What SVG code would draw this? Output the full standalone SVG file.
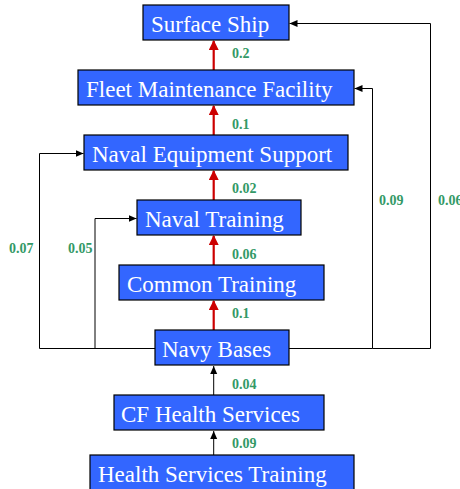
<svg xmlns="http://www.w3.org/2000/svg" width="460" height="489" viewBox="0 0 460 489">
<style>
.box{fill:#3366FF;stroke:#000;stroke-width:1.2}
.t{font-family:"Liberation Serif","Times New Roman",serif;font-size:23px;fill:#FFFFFF}
.v{font-family:"Liberation Serif","Times New Roman",serif;font-size:14px;font-weight:bold;fill:#339966}
.red{stroke:#CC0000;stroke-width:2.2;fill:none}
.blk{stroke:#000;stroke-width:1;fill:none}
</style>
<defs>
<marker id="ar" markerWidth="10" markerHeight="10" refX="9" refY="5" orient="auto" markerUnits="userSpaceOnUse"><path d="M0,0 L10,5 L0,10 Z" fill="#CC0000"/></marker>
<marker id="ab" markerWidth="8" markerHeight="8" refX="8" refY="4" orient="auto" markerUnits="userSpaceOnUse"><path d="M0,0.5 L8,4 L0,7.5 Z" fill="#000"/></marker>
</defs>
<g id="connectors">
<line class="red" x1="213.7" y1="70" x2="213.7" y2="41" marker-end="url(#ar)"/>
<line class="red" x1="213.7" y1="135" x2="213.7" y2="106" marker-end="url(#ar)"/>
<line class="red" x1="213.7" y1="200" x2="213.7" y2="171" marker-end="url(#ar)"/>
<line class="red" x1="213.7" y1="265" x2="213.7" y2="236" marker-end="url(#ar)"/>
<line class="red" x1="213.7" y1="330" x2="213.7" y2="301" marker-end="url(#ar)"/>
<line class="blk" x1="213.7" y1="395" x2="213.7" y2="366" marker-end="url(#ab)"/>
<line class="blk" x1="213.7" y1="455" x2="213.7" y2="431" marker-end="url(#ab)"/>
<polyline class="blk" points="155,348.5 39.5,348.5 39.5,153.5 83.5,153.5" marker-end="url(#ab)"/>
<polyline class="blk" points="95,348.5 95,218.5 136.5,218.5" marker-end="url(#ab)"/>
<polyline class="blk" points="289,348.5 372.5,348.5 372.5,88.5 354.5,88.5" marker-end="url(#ab)"/>
<polyline class="blk" points="372.5,348.5 430.5,348.5 430.5,23.5 289.5,23.5" marker-end="url(#ab)"/>
<text class="v" x="232" y="58">0.2</text>
<text class="v" x="232" y="129">0.1</text>
<text class="v" x="232" y="193">0.02</text>
<text class="v" x="232" y="259">0.06</text>
<text class="v" x="232" y="318">0.1</text>
<text class="v" x="232" y="389">0.04</text>
<text class="v" x="232" y="448">0.09</text>
<text class="v" x="9" y="253">0.07</text>
<text class="v" x="68" y="253">0.05</text>
<text class="v" x="379" y="205">0.09</text>
<text class="v" x="438" y="205">0.06</text>
</g>
<g id="surface-ship"><rect class="box" x="143" y="5" width="146" height="35"/><text class="t" x="151" y="32">Surface Ship</text></g>
<g id="fleet-maintenance"><rect class="box" x="78" y="70" width="276" height="35"/><text class="t" x="86" y="97">Fleet Maintenance Facility</text></g>
<g id="naval-equipment"><rect class="box" x="84" y="135" width="264" height="35"/><text class="t" x="92" y="162">Naval Equipment Support</text></g>
<g id="naval-training"><rect class="box" x="137" y="200" width="164" height="35"/><text class="t" x="145" y="227">Naval Training</text></g>
<g id="common-training"><rect class="box" x="119" y="265" width="205" height="35"/><text class="t" x="127" y="292">Common Training</text></g>
<g id="navy-bases"><rect class="box" x="155" y="330" width="134" height="35"/><text class="t" x="162" y="357">Navy Bases</text></g>
<g id="cf-health"><rect class="box" x="114" y="395" width="210" height="35"/><text class="t" x="121" y="422">CF Health Services</text></g>
<g id="health-training"><rect class="box" x="90" y="455" width="264" height="35"/><text class="t" x="98" y="482">Health Services Training</text></g>
</svg>
